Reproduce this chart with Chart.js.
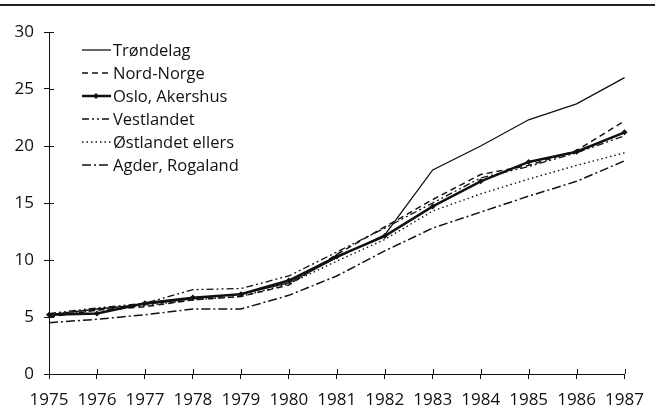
<!DOCTYPE html>
<html>
<head>
<meta charset="utf-8">
<script src="https://cdn.jsdelivr.net/npm/chart.js@4"></script>
<style>
  html, body { margin: 0; padding: 0; background: #fff; }
  #wrap { width: 655px; height: 411px; }
</style>
</head>
<body>
<div id="wrap"><canvas id="chart" width="655" height="411"></canvas></div>
<script>
// ===== DATA =====
const years = ['1975', '1976', '1977', '1978', '1979', '1980', '1981', '1982', '1983', '1984', '1985', '1986', '1987'];
const yTicks = [0, 5, 10, 15, 20, 25, 30];

const trondelag  = [5.2, 5.7, 6.1, 6.6, 7.0, 8.0, 10.2, 12.2, 17.9, 20.0, 22.3, 23.7, 26.0];
const nordNorge  = [5.0, 5.6, 5.9, 6.5, 6.8, 7.8, 10.5, 12.9, 15.3, 17.5, 18.3, 19.6, 22.2];
const oslo       = [5.2, 5.3, 6.2, 6.7, 7.0, 8.2, 10.3, 12.1, 14.7, 16.9, 18.6, 19.5, 21.2];
const vestlandet = [5.3, 5.8, 6.2, 7.4, 7.5, 8.6, 10.7, 12.8, 15.0, 17.2, 18.2, 19.4, 20.9];
const ostlandet  = [5.1, 5.6, 6.0, 6.5, 6.8, 7.9, 9.9, 11.8, 14.3, 15.8, 17.1, 18.3, 19.4];
const agder      = [4.5, 4.8, 5.2, 5.7, 5.7, 6.9, 8.6, 10.8, 12.8, 14.2, 15.6, 16.9, 18.7];

const INK = '#111';
const FONT = "'Open Sans', 'DejaVu Sans', sans-serif";

function series(label, data, width, dash, marker) {
    return {
        label: label,
        data: data,
        borderColor: INK,
        backgroundColor: INK,
        borderWidth: width,
        borderDash: dash,
        pointRadius: marker ? 3 : 0,
        pointStyle: 'rectRot',
        pointBorderWidth: 0,
        tension: 0,
        fill: false
    };
}

// ===== PLUGINS =====
// thick rule across the top of the figure
const topRule = {
    id: 'topRule',
    afterDraw(chart) {
        const ctx = chart.ctx;
        ctx.save();
        ctx.fillStyle = '#222';
        ctx.fillRect(0, 4, chart.width, 2);
        ctx.restore();
    }
};

// inner half of the crossing tick marks
const innerTicks = {
    id: 'innerTicks',
    afterDraw(chart) {
        const ctx = chart.ctx;
        const xs = chart.scales.x, ys = chart.scales.y;
        ctx.save();
        ctx.strokeStyle = INK;
        ctx.lineWidth = 1;
        ctx.beginPath();
        yTicks.forEach(v => {
            const py = Math.round(ys.getPixelForValue(v)) + 0.5;
            ctx.moveTo(xs.left, py);
            ctx.lineTo(xs.left + 5, py);
        });
        years.forEach((y, i) => {
            const px = Math.round(xs.getPixelForValue(i)) + 0.5;
            ctx.moveTo(px, ys.bottom);
            ctx.lineTo(px, ys.bottom - 5);
        });
        ctx.stroke();
        ctx.restore();
    }
};

// legend list inside the plot, top left
const boxLegend = {
    id: 'boxLegend',
    afterDraw(chart) {
        const ctx = chart.ctx;
        ctx.save();
        ctx.font = '16.5px ' + FONT;
        ctx.textBaseline = 'middle';
        ctx.fillStyle = INK;
        chart.data.datasets.forEach((ds, i) => {
            const y = 50 + i * 23;
            ctx.strokeStyle = ds.borderColor;
            ctx.lineWidth = ds.borderWidth;
            ctx.setLineDash(ds.borderDash || []);
            ctx.beginPath();
            ctx.moveTo(82, y);
            ctx.lineTo(111, y);
            ctx.stroke();
            ctx.setLineDash([]);
            if (ds.pointRadius > 0) {
                ctx.beginPath();
                ctx.moveTo(96, y - 3);
                ctx.lineTo(99, y);
                ctx.lineTo(96, y + 3);
                ctx.lineTo(93, y);
                ctx.closePath();
                ctx.fill();
            }
            ctx.fillText(ds.label, 113, y + 1);
        });
        ctx.restore();
    }
};

// ===== CHART =====
new Chart(document.getElementById('chart'), {
    type: 'line',
    data: {
        labels: years,
        datasets: [
            series('Trøndelag', trondelag, 1.3, [], false),
            series('Nord-Norge', nordNorge, 1.5, [6, 4], false),
            series('Oslo, Akershus', oslo, 2.5, [], true),
            series('Vestlandet', vestlandet, 1.3, [7, 3, 2, 3, 2, 3], false),
            series('Østlandet ellers', ostlandet, 1.4, [1.5, 3], false),
            series('Agder, Rogaland', agder, 1.5, [9, 3, 2, 3], false)
        ]
    },
    options: {
        responsive: false,
        animation: false,
        layout: { padding: { top: 32, right: 21, left: 0, bottom: 0 } },
        plugins: {
            legend: { display: false },
            tooltip: { enabled: false }
        },
        scales: {
            x: {
                offset: false,
                afterFit: s => { s.height = 37; },
                border: { display: true, color: INK, width: 1 },
                grid: { drawOnChartArea: false, drawTicks: true, tickLength: 5, color: INK },
                ticks: { color: INK, font: { family: FONT, size: 17 }, padding: 11, maxRotation: 0, autoSkip: false }
            },
            y: {
                min: 0,
                max: 30,
                afterFit: s => { s.width = 49; },
                afterBuildTicks: s => { s.ticks = yTicks.map(v => ({ value: v })); },
                border: { display: true, color: INK, width: 1 },
                grid: { drawOnChartArea: false, drawTicks: true, tickLength: 5, color: INK },
                ticks: { color: INK, font: { family: FONT, size: 17 }, padding: 10 }
            }
        }
    },
    plugins: [topRule, innerTicks, boxLegend]
});
</script>
</body>
</html>
